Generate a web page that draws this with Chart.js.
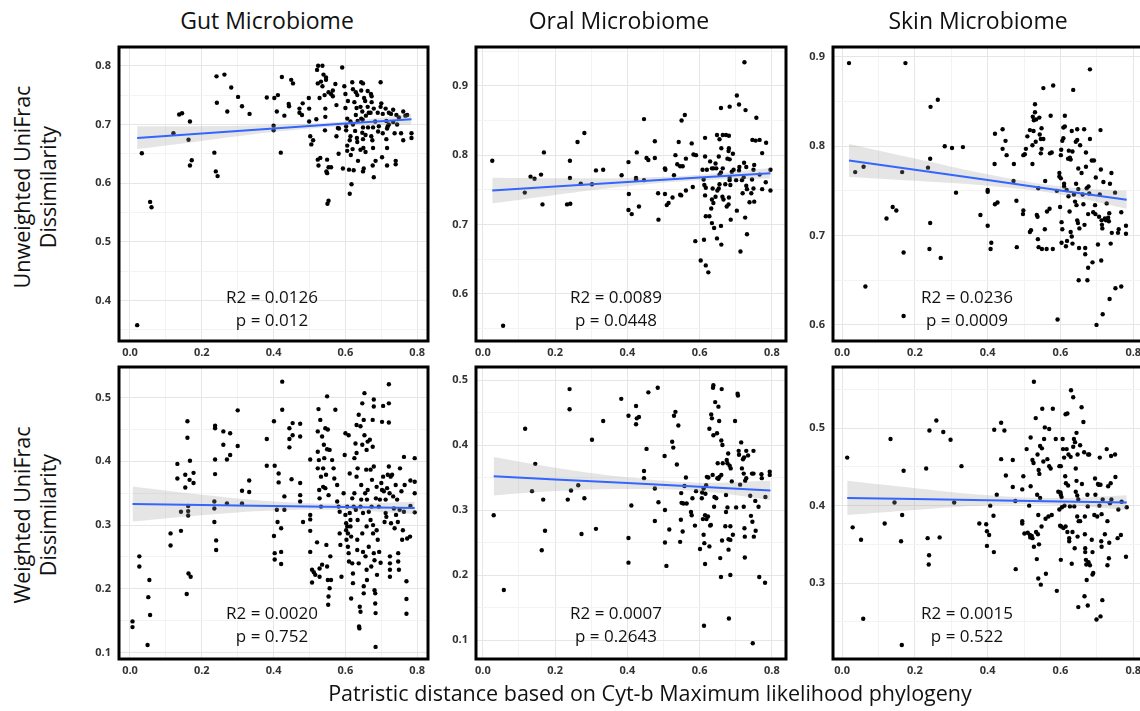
<!DOCTYPE html>
<html><head><meta charset="utf-8">
<script src="https://cdn.jsdelivr.net/npm/chart.js@4.4.0/dist/chart.umd.min.js"></script>
<style>
html,body{margin:0;padding:0;width:1140px;height:711px;overflow:hidden;background:#fff;font-family:"Open Sans",sans-serif;}
canvas{position:absolute;}
.t{position:absolute;white-space:nowrap;color:#111;transform:translate(-50%,-50%);line-height:1;}
.title{font-size:23px;}
.ax{font-size:21.5px;}
.ann{font-size:17px;text-align:center;line-height:23px;}
.ylab{position:absolute;font-size:21.5px;line-height:26px;text-align:center;white-space:nowrap;color:#111;transform:translate(-50%,-50%) rotate(-90deg);}
</style></head><body>
<div id="wrap"></div>
<script>
// ---------- DATA ----------
const panelTitles = ["Gut Microbiome","Oral Microbiome","Skin Microbiome"];
const rowTitles = [["Unweighted UniFrac","Dissimilarity"],["Weighted UniFrac","Dissimilarity"]];
const xAxisTitle = "Patristic distance based on Cyt-b Maximum likelihood phylogeny";
const statLabels = [
  ["R2 = 0.0126","p = 0.012"],["R2 = 0.0089","p = 0.0448"],["R2 = 0.0236","p = 0.0009"],
  ["R2 = 0.0020","p = 0.752"],["R2 = 0.0007","p = 0.2643"],["R2 = 0.0015","p = 0.522"]
];
const xTickValues = [0,0.1,0.2,0.3,0.4,0.5,0.6,0.7,0.8];
const yTicksGutU = [0.35,0.4,0.45,0.5,0.55,0.6,0.65,0.7,0.75,0.8];
const yTicksOralU = [0.55,0.6,0.65,0.7,0.75,0.8,0.85,0.9,0.95];
const yTicksSkinU = [0.6,0.65,0.7,0.75,0.8,0.85,0.9];
const yTicksGutW = [0.1,0.15,0.2,0.25,0.3,0.35,0.4,0.45,0.5];
const yTicksOralW = [0.1,0.15,0.2,0.25,0.3,0.35,0.4,0.45,0.5];
const yTicksSkinW = [0.25,0.3,0.35,0.4,0.45,0.5,0.55];

const gutUnweighted = [[0.02,0.358],[0.033,0.651],[0.056,0.568],[0.06,0.559],[0.121,0.685],[0.137,0.717],[0.145,0.719],[0.167,0.705],[0.163,0.674],[0.167,0.63],[0.172,0.639],[0.235,0.652],[0.239,0.62],[0.244,0.612],[0.241,0.782],[0.242,0.737],[0.263,0.785],[0.271,0.722],[0.282,0.763],[0.301,0.747],[0.312,0.731],[0.333,0.718],[0.381,0.746],[0.4,0.698],[0.4,0.69],[0.402,0.745],[0.409,0.722],[0.412,0.75],[0.42,0.652],[0.423,0.781],[0.43,0.715],[0.442,0.735],[0.443,0.731],[0.449,0.776],[0.454,0.77],[0.472,0.727],[0.472,0.72],[0.479,0.716],[0.481,0.736],[0.498,0.745],[0.499,0.727],[0.499,0.705],[0.502,0.68],[0.505,0.666],[0.51,0.673],[0.519,0.709],[0.521,0.793],[0.524,0.8],[0.536,0.8],[0.523,0.77],[0.532,0.773],[0.528,0.745],[0.539,0.785],[0.536,0.765],[0.546,0.78],[0.546,0.776],[0.523,0.64],[0.53,0.643],[0.525,0.63],[0.542,0.75],[0.544,0.727],[0.544,0.713],[0.543,0.69],[0.549,0.64],[0.547,0.62],[0.549,0.617],[0.553,0.627],[0.55,0.565],[0.553,0.57],[0.553,0.755],[0.56,0.752],[0.56,0.627],[0.565,0.748],[0.565,0.758],[0.572,0.769],[0.575,0.733],[0.575,0.68],[0.579,0.694],[0.581,0.65],[0.582,0.693],[0.591,0.797],[0.593,0.625],[0.597,0.765],[0.6,0.752],[0.6,0.728],[0.602,0.697],[0.602,0.69],[0.605,0.71],[0.607,0.74],[0.605,0.664],[0.605,0.655],[0.61,0.623],[0.612,0.582],[0.617,0.598],[0.614,0.68],[0.612,0.673],[0.615,0.648],[0.614,0.705],[0.619,0.772],[0.621,0.76],[0.621,0.7],[0.625,0.738],[0.62,0.658],[0.623,0.622],[0.629,0.755],[0.633,0.75],[0.631,0.728],[0.629,0.716],[0.627,0.689],[0.632,0.677],[0.633,0.67],[0.634,0.706],[0.635,0.638],[0.644,0.772],[0.644,0.758],[0.642,0.73],[0.644,0.71],[0.647,0.686],[0.642,0.657],[0.649,0.77],[0.647,0.722],[0.648,0.708],[0.649,0.695],[0.649,0.675],[0.65,0.66],[0.649,0.62],[0.651,0.625],[0.652,0.745],[0.655,0.74],[0.657,0.715],[0.656,0.682],[0.656,0.653],[0.662,0.757],[0.662,0.73],[0.663,0.695],[0.665,0.72],[0.671,0.752],[0.673,0.748],[0.67,0.72],[0.672,0.68],[0.675,0.673],[0.677,0.695],[0.673,0.738],[0.679,0.727],[0.677,0.66],[0.676,0.63],[0.679,0.61],[0.684,0.638],[0.683,0.705],[0.69,0.72],[0.691,0.688],[0.698,0.73],[0.693,0.697],[0.7,0.736],[0.698,0.772],[0.702,0.644],[0.704,0.718],[0.704,0.685],[0.712,0.727],[0.714,0.706],[0.718,0.697],[0.716,0.693],[0.714,0.675],[0.716,0.66],[0.716,0.63],[0.721,0.72],[0.721,0.7],[0.727,0.718],[0.733,0.725],[0.733,0.704],[0.737,0.685],[0.74,0.638],[0.74,0.632],[0.742,0.716],[0.744,0.7],[0.749,0.712],[0.761,0.722],[0.755,0.685],[0.761,0.673],[0.767,0.715],[0.772,0.716],[0.784,0.685],[0.784,0.677]];

const oralUnweighted = [[0.026,0.792],[0.056,0.554],[0.116,0.746],[0.132,0.769],[0.143,0.766],[0.161,0.772],[0.165,0.729],[0.169,0.804],[0.233,0.729],[0.242,0.73],[0.241,0.792],[0.241,0.767],[0.262,0.819],[0.271,0.759],[0.281,0.832],[0.302,0.758],[0.313,0.778],[0.333,0.779],[0.384,0.771],[0.403,0.79],[0.404,0.744],[0.403,0.721],[0.412,0.715],[0.424,0.767],[0.424,0.765],[0.426,0.804],[0.432,0.726],[0.446,0.764],[0.446,0.852],[0.453,0.796],[0.458,0.793],[0.476,0.82],[0.476,0.796],[0.485,0.745],[0.486,0.707],[0.504,0.781],[0.505,0.779],[0.504,0.744],[0.509,0.728],[0.514,0.731],[0.525,0.739],[0.529,0.771],[0.533,0.8],[0.538,0.787],[0.542,0.819],[0.546,0.784],[0.546,0.743],[0.549,0.742],[0.55,0.85],[0.559,0.858],[0.553,0.784],[0.562,0.795],[0.562,0.749],[0.578,0.817],[0.583,0.801],[0.59,0.8],[0.581,0.754],[0.588,0.676],[0.603,0.648],[0.608,0.779],[0.611,0.765],[0.612,0.678],[0.615,0.825],[0.615,0.798],[0.613,0.757],[0.617,0.753],[0.615,0.742],[0.617,0.712],[0.617,0.641],[0.627,0.712],[0.624,0.631],[0.62,0.779],[0.629,0.791],[0.634,0.781],[0.638,0.781],[0.632,0.723],[0.634,0.736],[0.636,0.752],[0.634,0.702],[0.638,0.731],[0.64,0.695],[0.644,0.788],[0.644,0.74],[0.646,0.781],[0.649,0.749],[0.648,0.829],[0.653,0.798],[0.653,0.752],[0.648,0.68],[0.655,0.823],[0.655,0.772],[0.655,0.758],[0.659,0.698],[0.66,0.671],[0.659,0.868],[0.66,0.81],[0.659,0.775],[0.664,0.829],[0.664,0.781],[0.663,0.74],[0.666,0.736],[0.673,0.829],[0.671,0.758],[0.675,0.726],[0.677,0.795],[0.681,0.828],[0.681,0.81],[0.68,0.806],[0.683,0.794],[0.68,0.729],[0.683,0.87],[0.683,0.767],[0.683,0.764],[0.681,0.739],[0.685,0.757],[0.686,0.707],[0.689,0.776],[0.692,0.802],[0.694,0.779],[0.701,0.764],[0.703,0.886],[0.709,0.873],[0.703,0.72],[0.709,0.778],[0.71,0.783],[0.713,0.661],[0.717,0.764],[0.719,0.745],[0.722,0.768],[0.723,0.789],[0.724,0.934],[0.727,0.865],[0.729,0.783],[0.729,0.756],[0.726,0.71],[0.731,0.686],[0.731,0.751],[0.738,0.732],[0.745,0.765],[0.743,0.745],[0.746,0.822],[0.749,0.779],[0.751,0.786],[0.749,0.752],[0.751,0.733],[0.755,0.821],[0.757,0.854],[0.766,0.772],[0.766,0.822],[0.773,0.803],[0.773,0.751],[0.783,0.761],[0.784,0.818],[0.796,0.779],[0.796,0.749]];

const skinUnweighted = [[0.019,0.893],[0.036,0.771],[0.059,0.777],[0.064,0.643],[0.122,0.719],[0.139,0.732],[0.149,0.728],[0.165,0.771],[0.169,0.681],[0.169,0.61],[0.174,0.893],[0.236,0.776],[0.242,0.786],[0.243,0.844],[0.242,0.714],[0.24,0.685],[0.263,0.852],[0.271,0.675],[0.282,0.8],[0.302,0.798],[0.313,0.748],[0.332,0.799],[0.38,0.723],[0.4,0.751],[0.4,0.749],[0.4,0.711],[0.408,0.685],[0.41,0.692],[0.419,0.78],[0.42,0.735],[0.42,0.814],[0.427,0.737],[0.441,0.819],[0.441,0.797],[0.449,0.806],[0.452,0.79],[0.472,0.78],[0.471,0.761],[0.479,0.739],[0.48,0.687],[0.498,0.728],[0.497,0.724],[0.498,0.79],[0.502,0.791],[0.505,0.797],[0.509,0.811],[0.516,0.818],[0.516,0.704],[0.519,0.706],[0.523,0.78],[0.523,0.801],[0.524,0.833],[0.526,0.817],[0.527,0.829],[0.53,0.847],[0.53,0.838],[0.533,0.83],[0.532,0.805],[0.535,0.723],[0.537,0.721],[0.538,0.696],[0.54,0.687],[0.539,0.753],[0.542,0.832],[0.543,0.813],[0.546,0.792],[0.546,0.808],[0.548,0.797],[0.549,0.685],[0.548,0.82],[0.553,0.808],[0.553,0.865],[0.557,0.707],[0.558,0.761],[0.562,0.685],[0.563,0.727],[0.57,0.73],[0.571,0.792],[0.573,0.834],[0.576,0.793],[0.579,0.685],[0.58,0.868],[0.59,0.75],[0.592,0.606],[0.597,0.77],[0.597,0.766],[0.599,0.732],[0.601,0.79],[0.601,0.764],[0.602,0.796],[0.603,0.692],[0.603,0.715],[0.605,0.806],[0.605,0.707],[0.608,0.821],[0.608,0.809],[0.61,0.758],[0.61,0.755],[0.612,0.822],[0.612,0.834],[0.615,0.688],[0.617,0.751],[0.618,0.694],[0.621,0.786],[0.622,0.744],[0.623,0.795],[0.625,0.727],[0.626,0.787],[0.628,0.785],[0.628,0.704],[0.631,0.817],[0.631,0.699],[0.633,0.691],[0.633,0.794],[0.635,0.863],[0.637,0.746],[0.64,0.738],[0.642,0.805],[0.643,0.758],[0.644,0.734],[0.646,0.807],[0.646,0.819],[0.646,0.717],[0.648,0.714],[0.649,0.775],[0.649,0.752],[0.65,0.65],[0.651,0.686],[0.652,0.708],[0.654,0.801],[0.658,0.77],[0.661,0.746],[0.663,0.735],[0.665,0.819],[0.666,0.712],[0.668,0.686],[0.668,0.679],[0.67,0.793],[0.67,0.777],[0.672,0.753],[0.674,0.65],[0.676,0.724],[0.676,0.664],[0.677,0.755],[0.679,0.747],[0.681,0.886],[0.681,0.808],[0.686,0.784],[0.688,0.67],[0.69,0.726],[0.692,0.784],[0.695,0.734],[0.696,0.724],[0.697,0.765],[0.699,0.6],[0.703,0.69],[0.706,0.721],[0.708,0.746],[0.71,0.818],[0.711,0.774],[0.712,0.672],[0.713,0.717],[0.714,0.712],[0.715,0.708],[0.716,0.612],[0.718,0.76],[0.722,0.719],[0.725,0.717],[0.727,0.736],[0.731,0.72],[0.733,0.716],[0.734,0.725],[0.735,0.629],[0.736,0.758],[0.738,0.691],[0.74,0.77],[0.741,0.703],[0.75,0.748],[0.751,0.641],[0.758,0.703],[0.76,0.707],[0.767,0.643],[0.767,0.726],[0.78,0.711],[0.78,0.702]];

const gutWeighted = [[0.007,0.149],[0.007,0.14],[0.026,0.251],[0.026,0.235],[0.049,0.112],[0.051,0.187],[0.054,0.214],[0.056,0.159],[0.113,0.287],[0.113,0.268],[0.132,0.396],[0.132,0.373],[0.142,0.321],[0.142,0.291],[0.154,0.379],[0.154,0.359],[0.158,0.192],[0.16,0.463],[0.16,0.437],[0.162,0.33],[0.162,0.322],[0.162,0.315],[0.163,0.224],[0.166,0.371],[0.167,0.401],[0.169,0.219],[0.177,0.382],[0.177,0.366],[0.237,0.456],[0.237,0.452],[0.237,0.403],[0.237,0.38],[0.235,0.337],[0.235,0.326],[0.235,0.305],[0.24,0.276],[0.24,0.261],[0.26,0.447],[0.26,0.426],[0.27,0.403],[0.27,0.334],[0.279,0.444],[0.279,0.41],[0.3,0.48],[0.3,0.424],[0.312,0.354],[0.312,0.334],[0.332,0.37],[0.332,0.352],[0.381,0.435],[0.381,0.393],[0.401,0.463],[0.403,0.393],[0.401,0.283],[0.403,0.256],[0.403,0.246],[0.409,0.324],[0.411,0.305],[0.414,0.381],[0.414,0.367],[0.421,0.258],[0.421,0.239],[0.421,0.295],[0.424,0.525],[0.424,0.481],[0.43,0.345],[0.43,0.324],[0.444,0.452],[0.444,0.435],[0.444,0.422],[0.45,0.372],[0.453,0.46],[0.453,0.441],[0.474,0.459],[0.474,0.439],[0.474,0.366],[0.474,0.347],[0.474,0.337],[0.482,0.305],[0.502,0.403],[0.502,0.316],[0.502,0.309],[0.502,0.291],[0.502,0.258],[0.507,0.23],[0.507,0.21],[0.512,0.226],[0.516,0.222],[0.521,0.273],[0.523,0.447],[0.523,0.415],[0.523,0.389],[0.525,0.482],[0.526,0.402],[0.527,0.355],[0.528,0.342],[0.528,0.232],[0.528,0.219],[0.53,0.465],[0.532,0.376],[0.532,0.329],[0.535,0.439],[0.535,0.238],[0.538,0.389],[0.538,0.36],[0.54,0.426],[0.541,0.405],[0.544,0.452],[0.544,0.358],[0.546,0.379],[0.547,0.269],[0.549,0.502],[0.549,0.419],[0.549,0.235],[0.551,0.45],[0.551,0.214],[0.552,0.175],[0.553,0.347],[0.553,0.188],[0.556,0.418],[0.556,0.201],[0.558,0.251],[0.56,0.214],[0.563,0.402],[0.567,0.389],[0.569,0.373],[0.572,0.481],[0.577,0.363],[0.577,0.337],[0.581,0.329],[0.584,0.321],[0.584,0.287],[0.586,0.269],[0.589,0.219],[0.595,0.35],[0.598,0.41],[0.6,0.444],[0.6,0.316],[0.602,0.303],[0.602,0.292],[0.603,0.277],[0.605,0.329],[0.605,0.298],[0.607,0.287],[0.607,0.266],[0.609,0.441],[0.609,0.256],[0.61,0.243],[0.612,0.381],[0.612,0.319],[0.614,0.308],[0.614,0.298],[0.616,0.282],[0.616,0.185],[0.619,0.342],[0.619,0.24],[0.621,0.224],[0.621,0.209],[0.623,0.329],[0.625,0.405],[0.625,0.35],[0.628,0.428],[0.629,0.324],[0.631,0.457],[0.631,0.413],[0.631,0.376],[0.633,0.277],[0.633,0.261],[0.634,0.389],[0.634,0.308],[0.637,0.473],[0.637,0.24],[0.638,0.141],[0.639,0.138],[0.64,0.172],[0.642,0.455],[0.642,0.329],[0.642,0.164],[0.644,0.363],[0.644,0.34],[0.647,0.491],[0.647,0.426],[0.647,0.287],[0.649,0.319],[0.649,0.258],[0.651,0.465],[0.651,0.204],[0.651,0.193],[0.653,0.507],[0.653,0.441],[0.655,0.35],[0.656,0.251],[0.658,0.387],[0.659,0.418],[0.659,0.298],[0.659,0.23],[0.66,0.34],[0.66,0.214],[0.662,0.431],[0.662,0.355],[0.665,0.321],[0.665,0.266],[0.668,0.434],[0.67,0.387],[0.67,0.308],[0.672,0.235],[0.673,0.329],[0.674,0.371],[0.676,0.465],[0.676,0.423],[0.677,0.3],[0.677,0.287],[0.679,0.486],[0.679,0.497],[0.679,0.392],[0.679,0.256],[0.681,0.245],[0.681,0.198],[0.683,0.193],[0.683,0.177],[0.684,0.162],[0.684,0.109],[0.685,0.342],[0.687,0.36],[0.687,0.292],[0.688,0.222],[0.69,0.277],[0.693,0.329],[0.694,0.258],[0.696,0.34],[0.698,0.241],[0.7,0.366],[0.702,0.355],[0.702,0.462],[0.705,0.487],[0.705,0.376],[0.707,0.353],[0.709,0.305],[0.712,0.34],[0.712,0.319],[0.714,0.313],[0.716,0.358],[0.718,0.379],[0.721,0.521],[0.721,0.491],[0.721,0.461],[0.721,0.392],[0.723,0.35],[0.724,0.251],[0.724,0.24],[0.724,0.23],[0.724,0.219],[0.726,0.376],[0.727,0.303],[0.73,0.379],[0.733,0.345],[0.735,0.326],[0.737,0.295],[0.74,0.363],[0.741,0.316],[0.744,0.34],[0.746,0.305],[0.747,0.256],[0.747,0.243],[0.749,0.23],[0.751,0.324],[0.752,0.389],[0.756,0.353],[0.758,0.277],[0.76,0.292],[0.763,0.407],[0.763,0.321],[0.765,0.363],[0.77,0.212],[0.77,0.184],[0.77,0.161],[0.772,0.279],[0.78,0.282],[0.781,0.37],[0.781,0.33],[0.793,0.405],[0.793,0.368],[0.793,0.35],[0.793,0.32]];

const oralWeighted = [[0.03,0.292],[0.058,0.177],[0.117,0.425],[0.136,0.329],[0.145,0.371],[0.163,0.238],[0.167,0.316],[0.172,0.268],[0.235,0.316],[0.24,0.486],[0.24,0.455],[0.244,0.33],[0.264,0.338],[0.273,0.263],[0.281,0.318],[0.302,0.408],[0.313,0.271],[0.333,0.437],[0.383,0.471],[0.403,0.445],[0.403,0.257],[0.403,0.219],[0.411,0.307],[0.424,0.46],[0.424,0.432],[0.426,0.441],[0.432,0.443],[0.446,0.36],[0.446,0.349],[0.453,0.394],[0.458,0.481],[0.476,0.333],[0.476,0.283],[0.484,0.488],[0.486,0.312],[0.503,0.383],[0.504,0.3],[0.504,0.25],[0.508,0.214],[0.516,0.27],[0.524,0.405],[0.527,0.396],[0.529,0.445],[0.533,0.451],[0.537,0.37],[0.541,0.43],[0.546,0.251],[0.548,0.285],[0.549,0.326],[0.55,0.311],[0.553,0.267],[0.555,0.31],[0.558,0.337],[0.562,0.35],[0.564,0.31],[0.576,0.297],[0.578,0.292],[0.58,0.318],[0.587,0.276],[0.59,0.329],[0.601,0.24],[0.606,0.318],[0.607,0.327],[0.609,0.286],[0.611,0.333],[0.611,0.262],[0.612,0.122],[0.613,0.249],[0.615,0.292],[0.615,0.217],[0.616,0.325],[0.618,0.338],[0.619,0.286],[0.62,0.351],[0.623,0.29],[0.624,0.35],[0.627,0.244],[0.627,0.425],[0.629,0.276],[0.631,0.277],[0.632,0.447],[0.634,0.441],[0.636,0.354],[0.637,0.488],[0.638,0.492],[0.638,0.415],[0.64,0.305],[0.641,0.32],[0.643,0.466],[0.646,0.318],[0.648,0.418],[0.649,0.349],[0.65,0.372],[0.652,0.459],[0.652,0.348],[0.654,0.437],[0.655,0.351],[0.657,0.226],[0.659,0.197],[0.66,0.407],[0.66,0.354],[0.661,0.486],[0.662,0.253],[0.663,0.4],[0.664,0.372],[0.671,0.275],[0.673,0.323],[0.673,0.297],[0.675,0.377],[0.677,0.304],[0.677,0.372],[0.679,0.387],[0.68,0.239],[0.68,0.255],[0.681,0.133],[0.683,0.368],[0.685,0.275],[0.685,0.254],[0.685,0.2],[0.686,0.364],[0.689,0.344],[0.692,0.262],[0.698,0.437],[0.701,0.304],[0.705,0.479],[0.706,0.476],[0.708,0.391],[0.709,0.385],[0.712,0.339],[0.715,0.404],[0.717,0.364],[0.72,0.378],[0.722,0.305],[0.722,0.356],[0.723,0.381],[0.724,0.272],[0.725,0.259],[0.725,0.227],[0.726,0.345],[0.729,0.349],[0.729,0.391],[0.734,0.384],[0.74,0.322],[0.742,0.291],[0.745,0.356],[0.746,0.282],[0.747,0.095],[0.749,0.391],[0.749,0.356],[0.75,0.259],[0.754,0.314],[0.755,0.268],[0.763,0.305],[0.765,0.197],[0.771,0.355],[0.772,0.349],[0.781,0.188],[0.782,0.32],[0.794,0.359],[0.794,0.354]];

const skinWeighted = [[0.014,0.462],[0.029,0.372],[0.052,0.356],[0.058,0.254],[0.117,0.377],[0.133,0.486],[0.144,0.404],[0.162,0.354],[0.165,0.388],[0.164,0.22],[0.169,0.445],[0.231,0.448],[0.235,0.358],[0.239,0.336],[0.238,0.324],[0.24,0.497],[0.259,0.51],[0.268,0.359],[0.278,0.495],[0.298,0.485],[0.308,0.404],[0.328,0.451],[0.377,0.377],[0.396,0.376],[0.398,0.367],[0.404,0.362],[0.398,0.348],[0.407,0.4],[0.416,0.387],[0.417,0.34],[0.418,0.498],[0.425,0.414],[0.437,0.46],[0.437,0.507],[0.446,0.497],[0.45,0.439],[0.469,0.424],[0.469,0.459],[0.477,0.318],[0.476,0.406],[0.495,0.38],[0.495,0.377],[0.495,0.421],[0.498,0.438],[0.501,0.364],[0.507,0.473],[0.51,0.365],[0.514,0.4],[0.516,0.362],[0.517,0.359],[0.518,0.425],[0.518,0.488],[0.521,0.361],[0.523,0.459],[0.523,0.358],[0.526,0.455],[0.527,0.56],[0.527,0.347],[0.532,0.513],[0.533,0.366],[0.535,0.331],[0.536,0.414],[0.537,0.466],[0.538,0.363],[0.539,0.306],[0.539,0.388],[0.54,0.446],[0.541,0.35],[0.542,0.441],[0.544,0.477],[0.544,0.41],[0.546,0.298],[0.548,0.373],[0.549,0.474],[0.55,0.525],[0.553,0.457],[0.555,0.486],[0.557,0.501],[0.559,0.383],[0.56,0.312],[0.564,0.46],[0.567,0.386],[0.569,0.499],[0.569,0.451],[0.573,0.448],[0.576,0.388],[0.579,0.525],[0.587,0.486],[0.59,0.29],[0.594,0.418],[0.597,0.395],[0.597,0.451],[0.599,0.374],[0.6,0.417],[0.601,0.451],[0.601,0.33],[0.601,0.414],[0.602,0.373],[0.603,0.411],[0.604,0.398],[0.606,0.486],[0.607,0.473],[0.608,0.371],[0.61,0.462],[0.611,0.4],[0.613,0.438],[0.614,0.518],[0.614,0.373],[0.615,0.429],[0.617,0.473],[0.619,0.519],[0.619,0.366],[0.621,0.426],[0.622,0.466],[0.624,0.358],[0.624,0.354],[0.626,0.399],[0.628,0.463],[0.629,0.549],[0.631,0.325],[0.633,0.366],[0.635,0.476],[0.635,0.54],[0.637,0.486],[0.638,0.399],[0.639,0.345],[0.64,0.482],[0.642,0.448],[0.642,0.418],[0.644,0.494],[0.644,0.432],[0.646,0.386],[0.646,0.413],[0.647,0.466],[0.647,0.36],[0.649,0.269],[0.649,0.408],[0.65,0.38],[0.654,0.478],[0.654,0.38],[0.658,0.527],[0.659,0.428],[0.663,0.508],[0.665,0.469],[0.666,0.283],[0.667,0.363],[0.667,0.386],[0.668,0.345],[0.668,0.34],[0.67,0.33],[0.671,0.324],[0.672,0.304],[0.674,0.414],[0.675,0.399],[0.676,0.466],[0.677,0.327],[0.679,0.466],[0.675,0.271],[0.681,0.323],[0.686,0.356],[0.688,0.311],[0.688,0.34],[0.69,0.313],[0.693,0.388],[0.695,0.435],[0.696,0.414],[0.699,0.253],[0.701,0.386],[0.703,0.428],[0.705,0.427],[0.707,0.4],[0.708,0.462],[0.71,0.427],[0.71,0.257],[0.712,0.354],[0.713,0.347],[0.713,0.389],[0.715,0.278],[0.716,0.408],[0.722,0.363],[0.727,0.473],[0.729,0.323],[0.729,0.38],[0.731,0.425],[0.733,0.332],[0.734,0.352],[0.736,0.403],[0.738,0.429],[0.739,0.464],[0.74,0.408],[0.75,0.466],[0.751,0.437],[0.757,0.358],[0.759,0.395],[0.766,0.362],[0.768,0.405],[0.78,0.334],[0.782,0.398]];

// regression fits: [x, fit, lower, upper]
const fitGutU  = [[0.02,0.677,0.658,0.697],[0.2,0.6846,0.672,0.697],[0.4,0.693,0.687,0.699],[0.6,0.7015,0.6975,0.7055],[0.784,0.709,0.700,0.718]];
const fitOralU = [[0.026,0.749,0.7305,0.7675],[0.2,0.7547,0.7427,0.7667],[0.4,0.7612,0.7552,0.7672],[0.6,0.7677,0.7637,0.7717],[0.796,0.774,0.7665,0.7815]];
const fitSkinU = [[0.019,0.784,0.7655,0.8025],[0.2,0.7737,0.7612,0.7862],[0.4,0.7621,0.7556,0.7686],[0.6,0.7505,0.746,0.755],[0.782,0.740,0.730,0.750]];
const fitGutW  = [[0.007,0.333,0.3055,0.3605],[0.2,0.3315,0.3155,0.3475],[0.4,0.330,0.323,0.337],[0.6,0.3285,0.3235,0.3335],[0.793,0.327,0.3175,0.3365]];
const fitOralW = [[0.03,0.352,0.3225,0.3815],[0.2,0.3471,0.3291,0.3651],[0.4,0.3414,0.3324,0.3504],[0.6,0.3356,0.3291,0.3421],[0.796,0.330,0.315,0.345]];
const fitSkinW = [[0.014,0.410,0.388,0.432],[0.2,0.4085,0.3945,0.4225],[0.4,0.407,0.4005,0.4135],[0.6,0.4054,0.4009,0.4099],[0.782,0.404,0.3945,0.4135]];

// ---------- LAYOUT ----------
const panels = [
  {pts:gutUnweighted, fit:fitGutU, yt:yTicksGutU, area:[119,47,428,341], x:[-0.0306,0.830], y:[0.331,0.832], ann:[272,296]},
  {pts:oralUnweighted, fit:fitOralU, yt:yTicksOralU, area:[476,47,786,341], x:[-0.019,0.839], y:[0.532,0.956], ann:[616,296]},
  {pts:skinUnweighted, fit:fitSkinU, yt:yTicksSkinU, area:[833,47,1146,341], x:[-0.025,0.835], y:[0.582,0.911], ann:[967,296]},
  {pts:gutWeighted, fit:fitGutW, yt:yTicksGutW, area:[119,367,428,659], x:[-0.0306,0.830], y:[0.090,0.548], ann:[272,612]},
  {pts:oralWeighted, fit:fitOralW, yt:yTicksOralW, area:[476,367,786,659], x:[-0.019,0.839], y:[0.0708,0.520], ann:[616,612]},
  {pts:skinWeighted, fit:fitSkinW, yt:yTicksSkinW, area:[833,367,1146,659], x:[-0.025,0.835], y:[0.202,0.579], ann:[967,612]}
];

Chart.defaults.font.family = "'Open Sans', sans-serif";
const PADL=50, PADT=6, PADR=6, PADB=26;
const isTenth = v => Math.abs(v*10 - Math.round(v*10)) < 1e-6;
const isX2 = v => Math.abs(v*5 - Math.round(v*5)) < 1e-6;

const framePlugin = {id:'frame', afterDraw(chart){
  const {ctx, chartArea:a} = chart;
  ctx.save(); ctx.strokeStyle='#000'; ctx.lineWidth=3;
  ctx.strokeRect(a.left, a.top, a.right-a.left, a.bottom-a.top); ctx.restore();
}};

const wrap = document.getElementById('wrap');
function addText(cls, txt, x, y){ const d=document.createElement('div'); d.className='t '+cls; d.innerHTML=txt; d.style.left=x+'px'; d.style.top=y+'px'; document.body.appendChild(d); return d; }
function zeroPad(s){ s.paddingTop=0; s.paddingBottom=0; s.paddingLeft=0; s.paddingRight=0; }

panels.forEach((p, i) => {
  const [L,T,R,B] = p.area;
  const c = document.createElement('canvas');
  const W = (R-L)+PADL+PADR, H = (B-T)+PADT+PADB;
  c.width=W; c.height=H; c.style.left=(L-PADL)+'px'; c.style.top=(T-PADT)+'px';
  c.style.width=W+'px'; c.style.height=H+'px';
  wrap.appendChild(c);
  const tickFont = {size:11, weight:'bold'};
  new Chart(c, {
    type:'scatter',
    data:{datasets:[
      {type:'line', data:p.fit.map(r=>({x:r[0],y:r[1]})), borderColor:'#3366FF', borderWidth:2, pointRadius:0, fill:false, tension:0, order:0},
      {type:'line', data:p.fit.map(r=>({x:r[0],y:r[3]})), borderWidth:0, borderColor:'rgba(0,0,0,0)', pointRadius:0, fill:'+1', backgroundColor:'rgba(153,153,153,0.26)', tension:0.4, order:1},
      {type:'line', data:p.fit.map(r=>({x:r[0],y:r[2]})), borderWidth:0, borderColor:'rgba(0,0,0,0)', pointRadius:0, fill:false, tension:0.4, order:1},
      {type:'scatter', data:p.pts.map(r=>({x:r[0],y:r[1]})), pointRadius:2.2, pointBackgroundColor:'#000', pointBorderWidth:0, order:3}
    ]},
    options:{
      responsive:false, animation:false, events:[], devicePixelRatio:1,
      layout:{padding:{left:0, top:PADT, right:PADR, bottom:0}},
      plugins:{legend:{display:false}, tooltip:{enabled:false}},
      scales:{
        x:{type:'linear', min:p.x[0], max:p.x[1],
          afterBuildTicks: s => { s.ticks = xTickValues.map(v=>({value:v})); },
          afterFit: s => { s.height = PADB; zeroPad(s); },
          border:{display:false},
          grid:{drawTicks:false, lineWidth:1, color: ctx => isX2(ctx.tick.value) ? '#e6e6e6' : '#f3f3f3'},
          ticks:{autoSkip:false, maxRotation:0, padding:5, color:'#333', font:tickFont,
            callback: v => isX2(v) ? v.toFixed(1) : ''}
        },
        y:{type:'linear', min:p.y[0], max:p.y[1],
          afterBuildTicks: s => { s.ticks = p.yt.map(v=>({value:v})); },
          afterFit: s => { s.width = PADL; zeroPad(s); },
          border:{display:false},
          grid:{drawTicks:false, lineWidth:1, color: ctx => isTenth(ctx.tick.value) ? '#e6e6e6' : '#f3f3f3'},
          ticks:{autoSkip:false, padding:8, color:'#333', font:tickFont,
            callback: v => isTenth(v) ? v.toFixed(1) : ''}
        }
      }
    },
    plugins:[framePlugin]
  });
  const a = document.createElement('div'); a.className='t ann';
  a.innerHTML = statLabels[i][0] + '<br>' + statLabels[i][1];
  a.style.left = p.ann[0]+'px'; a.style.top = (p.ann[1]+11.5)+'px';
  document.body.appendChild(a);
});

addText('title', panelTitles[0], 267, 20);
addText('title', panelTitles[1], 619, 20);
addText('title', panelTitles[2], 978, 20);
addText('ax', xAxisTitle, 650, 693);
rowTitles.forEach((r, i) => {
  const d = document.createElement('div'); d.className='ylab';
  d.innerHTML = r[0] + '<br>' + r[1];
  d.style.left = '35px'; d.style.top = (i===0 ? 187 : 515) + 'px';
  document.body.appendChild(d);
});
</script>
</body></html>
